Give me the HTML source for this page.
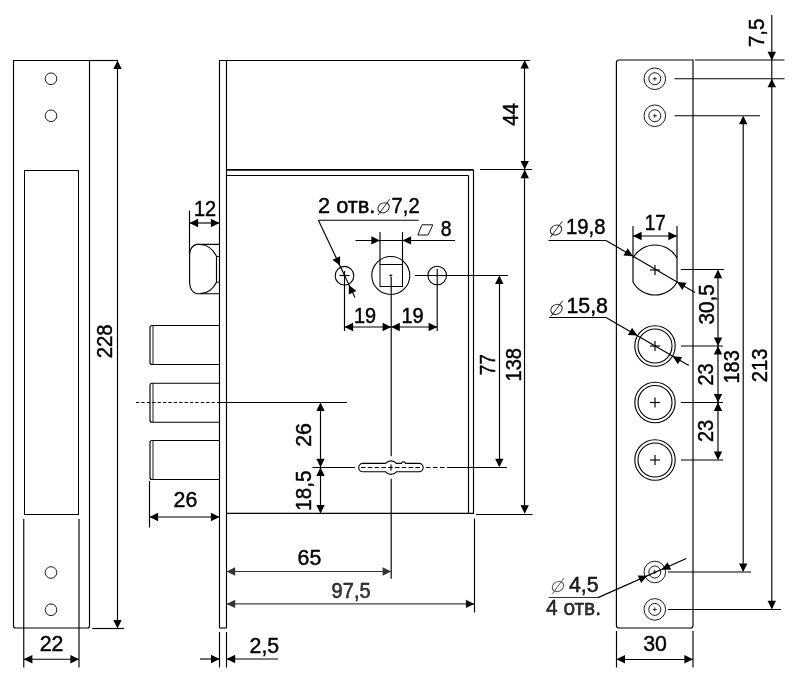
<!DOCTYPE html>
<html><head><meta charset="utf-8"><title>Lock drawing</title>
<style>
html,body{margin:0;padding:0;background:#fff;}
svg{display:block;}
text{font-family:"Liberation Sans",sans-serif;stroke:#000;stroke-width:0.45px;}
svg{will-change:transform;}
</style></head><body>
<svg width="800" height="690" viewBox="0 0 800 690">
<path d="M13.5,60.5 H89.5 V626 Q89.5,628 87.5,628 H15.5 Q13.5,628 13.5,626 Z" fill="none" stroke="#000" stroke-width="1.15"/>
<rect x="24.5" y="170.5" width="54" height="344" fill="none" stroke="#000" stroke-width="1"/>
<circle cx="51" cy="78.75" r="5.8" fill="none" stroke="#000" stroke-width="0.9"/>
<circle cx="51" cy="115.75" r="5.8" fill="none" stroke="#000" stroke-width="0.9"/>
<circle cx="51" cy="572.5" r="5.8" fill="none" stroke="#000" stroke-width="0.9"/>
<circle cx="51" cy="609.75" r="5.8" fill="none" stroke="#000" stroke-width="0.9"/>
<line x1="89.5" y1="60.5" x2="118" y2="60.5" stroke="#000" stroke-width="1.15" />
<line x1="92.3" y1="628.5" x2="124" y2="628.5" stroke="#000" stroke-width="1.15" />
<line x1="117.5" y1="62" x2="117.5" y2="626" stroke="#000" stroke-width="1.15" />
<polygon points="117.50,60.50 121.70,69.10 113.30,69.10" fill="#000"/>
<polygon points="117.50,628.50 113.30,619.90 121.70,619.90" fill="#000"/>
<text transform="translate(112.2,341.4) rotate(-90)" font-size="21.3" text-anchor="middle" fill="#000" textLength="33.9" lengthAdjust="spacingAndGlyphs">228</text>
<line x1="23.75" y1="519" x2="23.75" y2="667.5" stroke="#000" stroke-width="1.15" />
<line x1="79" y1="519" x2="79" y2="667.5" stroke="#000" stroke-width="1.15" />
<line x1="24" y1="659.25" x2="79" y2="659.25" stroke="#000" stroke-width="1.15" />
<polygon points="23.75,659.25 32.35,655.05 32.35,663.45" fill="#000"/>
<polygon points="79.00,659.25 70.40,663.45 70.40,655.05" fill="#000"/>
<text x="51.5" y="650.5" font-size="21.3" text-anchor="middle" fill="#000" >22</text>
<path d="M219.5,628 V60.5 H530" fill="none" stroke="#000" stroke-width="1.15"/>
<line x1="226.5" y1="60.5" x2="226.5" y2="628" stroke="#000" stroke-width="1.15" />
<line x1="219.5" y1="628" x2="226.5" y2="628" stroke="#000" stroke-width="1.15" />
<line x1="226.5" y1="169.9" x2="473.5" y2="169.9" stroke="#000" stroke-width="1.6" />
<line x1="226.5" y1="175.5" x2="468.5" y2="175.5" stroke="#000" stroke-width="1.15" />
<line x1="468.5" y1="175.5" x2="468.5" y2="513.4" stroke="#000" stroke-width="1.15" />
<line x1="473.5" y1="169.9" x2="473.5" y2="513.4" stroke="#000" stroke-width="1.15" />
<line x1="226.5" y1="513.4" x2="474" y2="513.4" stroke="#000" stroke-width="1.15" />
<path d="M219.6,244.4 H196.7 Q190,246 189.6,254.5 V282.6 Q190,292 196.7,293.7 H219.6" fill="none" stroke="#000" stroke-width="1.15"/>
<path d="M200.3,244.5 Q211,245 216.5,256.3 V282.2 Q211,293.2 200.3,293.6" fill="none" stroke="#000" stroke-width="1.15"/>
<line x1="216.5" y1="256.5" x2="219.6" y2="256.5" stroke="#000" stroke-width="0.9" />
<line x1="216.5" y1="282.2" x2="219.6" y2="282.2" stroke="#000" stroke-width="0.9" />
<line x1="189.5" y1="210.5" x2="189.5" y2="255" stroke="#000" stroke-width="1.15" />
<line x1="190" y1="223" x2="219.5" y2="223" stroke="#000" stroke-width="1.15" />
<polygon points="189.50,223.00 198.10,218.80 198.10,227.20" fill="#000"/>
<polygon points="219.50,223.00 210.90,227.20 210.90,218.80" fill="#000"/>
<text x="205.0" y="215.5" font-size="21.3" text-anchor="middle" fill="#000" textLength="22.2" lengthAdjust="spacingAndGlyphs" >12</text>
<path d="M219.5,325.5 H152 Q150,325.5 150,327.5 V362.5 Q150,364.5 152,364.5 H219.5" fill="none" stroke="#000" stroke-width="1.15"/>
<line x1="153" y1="325.5" x2="153" y2="364.5" stroke="#000" stroke-width="0.9" />
<path d="M219.5,383.25 H152 Q150,383.25 150,385.25 V420.25 Q150,422.25 152,422.25 H219.5" fill="none" stroke="#000" stroke-width="1.15"/>
<line x1="153" y1="383.25" x2="153" y2="422.25" stroke="#000" stroke-width="0.9" />
<path d="M219.5,440.5 H152 Q150,440.5 150,442.5 V477.5 Q150,479.5 152,479.5 H219.5" fill="none" stroke="#000" stroke-width="1.15"/>
<line x1="153" y1="440.5" x2="153" y2="479.5" stroke="#000" stroke-width="0.9" />
<line x1="136" y1="402.5" x2="219.5" y2="402.5" stroke="#000" stroke-width="1.0" stroke-dasharray="3.2,2.2"/>
<line x1="219.5" y1="402.5" x2="347" y2="402.5" stroke="#000" stroke-width="1.15" />
<line x1="149.5" y1="481" x2="149.5" y2="527.5" stroke="#000" stroke-width="1.15" />
<line x1="150" y1="517" x2="219.5" y2="517" stroke="#000" stroke-width="1.15" />
<polygon points="149.50,517.00 158.10,512.80 158.10,521.20" fill="#000"/>
<polygon points="219.50,517.00 210.90,521.20 210.90,512.80" fill="#000"/>
<text x="185.4" y="507" font-size="21.3" text-anchor="middle" fill="#000" >26</text>
<circle cx="344.5" cy="275.7" r="9.3" fill="none" stroke="#000" stroke-width="1.1"/>
<circle cx="437.2" cy="275.5" r="9.3" fill="none" stroke="#000" stroke-width="1.1"/>
<circle cx="390.8" cy="275.5" r="19" fill="none" stroke="#000" stroke-width="1.1"/>
<rect x="380" y="264.5" width="22.5" height="22" fill="none" stroke="#000" stroke-width="1"/>
<line x1="389.3" y1="275.5" x2="392.3" y2="275.5" stroke="#000" stroke-width="0.8" />
<line x1="390.8" y1="274" x2="390.8" y2="277" stroke="#000" stroke-width="0.8" />
<line x1="339.5" y1="275.5" x2="349.5" y2="275.5" stroke="#000" stroke-width="1.15" />
<line x1="344.5" y1="271" x2="344.5" y2="331" stroke="#000" stroke-width="1.15" />
<line x1="437.2" y1="268.7" x2="437.2" y2="331" stroke="#000" stroke-width="1.15" />
<line x1="415" y1="275.5" x2="508" y2="275.5" stroke="#000" stroke-width="1.15" />
<line x1="391.2" y1="277" x2="391.2" y2="456.3" stroke="#000" stroke-width="1.15" />
<line x1="391.2" y1="478.7" x2="391.2" y2="578.7" stroke="#000" stroke-width="1.15" />
<line x1="380" y1="232" x2="380" y2="264.5" stroke="#000" stroke-width="1.15" />
<line x1="402.5" y1="232" x2="402.5" y2="264.5" stroke="#000" stroke-width="1.15" />
<line x1="355.5" y1="240.5" x2="455" y2="240.5" stroke="#000" stroke-width="1.15" />
<polygon points="380.00,240.40 371.40,244.60 371.40,236.20" fill="#000"/>
<polygon points="402.50,240.40 411.10,236.20 411.10,244.60" fill="#000"/>
<path d="M417.8,235 L422,224.8 H432.8 L428.1,235 Z" fill="none" stroke="#111" stroke-width="1.0"/>
<text x="446.1" y="235.5" font-size="21.3" text-anchor="middle" fill="#000" textLength="10.8" lengthAdjust="spacingAndGlyphs" >8</text>
<text x="318" y="212.8" font-size="21.3" text-anchor="start" fill="#000" textLength="57.3" lengthAdjust="spacingAndGlyphs" >2 отв.</text>
<g transform="translate(383.6,207.8)"><ellipse cx="0" cy="0" rx="5.6" ry="5.1" transform="skewX(-12)" fill="none" stroke="#222" stroke-width="1.0"/><line x1="-5.6" y1="7.2" x2="6.2" y2="-8.6" stroke="#222" stroke-width="1.0"/></g>
<text x="391.6" y="213" font-size="21.3" text-anchor="start" fill="#000" textLength="28" lengthAdjust="spacingAndGlyphs" >7,2</text>
<line x1="318.4" y1="220.2" x2="418.6" y2="220.2" stroke="#000" stroke-width="1.15" />
<line x1="318.4" y1="220.2" x2="355" y2="297.5" stroke="#000" stroke-width="1.15" />
<polygon points="340.00,265.70 332.52,259.72 340.12,256.13" fill="#000"/>
<polygon points="348.90,285.00 356.38,290.98 348.78,294.57" fill="#000"/>
<line x1="344.5" y1="327" x2="437.2" y2="327" stroke="#000" stroke-width="1.15" />
<polygon points="344.50,327.00 353.10,322.80 353.10,331.20" fill="#000"/>
<polygon points="391.20,327.00 382.60,331.20 382.60,322.80" fill="#000"/>
<polygon points="391.20,327.00 399.80,322.80 399.80,331.20" fill="#000"/>
<polygon points="437.20,327.00 428.60,331.20 428.60,322.80" fill="#000"/>
<text x="365.0" y="322.6" font-size="21.3" text-anchor="middle" fill="#000" textLength="22.2" lengthAdjust="spacingAndGlyphs" >19</text>
<text x="412.5" y="322.6" font-size="21.3" text-anchor="middle" fill="#000" textLength="22.2" lengthAdjust="spacingAndGlyphs" >19</text>
<line x1="499.5" y1="277" x2="499.5" y2="466" stroke="#000" stroke-width="1.15" />
<polygon points="499.30,275.50 503.50,284.10 495.10,284.10" fill="#000"/>
<polygon points="499.30,467.30 495.10,458.70 503.50,458.70" fill="#000"/>
<text transform="translate(494.6,364.7) rotate(-90)" font-size="21.3" text-anchor="middle" fill="#000" textLength="21.3" lengthAdjust="spacingAndGlyphs">77</text>
<line x1="480" y1="169.5" x2="532" y2="169.5" stroke="#000" stroke-width="1.15" />
<line x1="476" y1="514.5" x2="532.5" y2="514.5" stroke="#000" stroke-width="1.15" />
<line x1="524.5" y1="62" x2="524.5" y2="512" stroke="#000" stroke-width="1.15" />
<polygon points="524.70,60.00 528.90,68.60 520.50,68.60" fill="#000"/>
<polygon points="524.70,169.60 520.50,161.00 528.90,161.00" fill="#000"/>
<polygon points="524.70,169.60 528.90,178.20 520.50,178.20" fill="#000"/>
<polygon points="524.70,513.80 520.50,505.20 528.90,505.20" fill="#000"/>
<text transform="translate(517.7,114.5) rotate(-90)" font-size="21.3" text-anchor="middle" fill="#000" textLength="22.6" lengthAdjust="spacingAndGlyphs">44</text>
<text transform="translate(521.1,364.7) rotate(-90)" font-size="21.3" text-anchor="middle" fill="#000" textLength="33.4" lengthAdjust="spacingAndGlyphs">138</text>
<line x1="312.5" y1="467.5" x2="355" y2="467.5" stroke="#000" stroke-width="1.15" />
<line x1="426" y1="467.5" x2="450" y2="467.5" stroke="#000" stroke-width="1.0" stroke-dasharray="4.5,2.5"/>
<line x1="450" y1="467.5" x2="507" y2="467.5" stroke="#000" stroke-width="1.15" />
<path d="M362.9,463.4 H385.6 A7,7 0 0 1 396.4,463.4 H401.4 A2.2,2.2 0 0 1 405.6,463.4 H419 A4.2,4.2 0 0 1 419,471.8 H396.4 A7,7 0 0 1 385.6,471.8 H362.9 A4.2,4.2 0 0 1 362.9,463.4 Z" fill="#fff" stroke="#000" stroke-width="1.1"/>
<line x1="361" y1="467.5" x2="421" y2="467.5" stroke="#000" stroke-width="1.0" stroke-dasharray="4.5,2.3"/>
<line x1="391" y1="464.4" x2="391" y2="470.6" stroke="#000" stroke-width="1.15" />
<line x1="320.5" y1="404" x2="320.5" y2="512" stroke="#000" stroke-width="1.15" />
<polygon points="320.50,402.50 324.70,411.10 316.30,411.10" fill="#000"/>
<polygon points="320.50,467.30 316.30,458.70 324.70,458.70" fill="#000"/>
<polygon points="320.50,467.30 324.70,475.90 316.30,475.90" fill="#000"/>
<polygon points="320.50,513.60 316.30,505.00 324.70,505.00" fill="#000"/>
<text transform="translate(310.8,434.9) rotate(-90)" font-size="21.3" text-anchor="middle" fill="#000">26</text>
<text transform="translate(310.5,490.7) rotate(-90)" font-size="21.3" text-anchor="middle" fill="#000" textLength="40.3" lengthAdjust="spacingAndGlyphs">18,5</text>
<line x1="227" y1="571.5" x2="391" y2="571.5" stroke="#333" stroke-width="1.0" />
<polygon points="226.60,571.50 235.20,567.30 235.20,575.70" fill="#333"/>
<polygon points="391.20,571.50 382.60,575.70 382.60,567.30" fill="#333"/>
<text x="309.4" y="565" font-size="21.3" text-anchor="middle" fill="#000" >65</text>
<line x1="474.5" y1="518.5" x2="474.5" y2="612.5" stroke="#000" stroke-width="1.15" />
<line x1="227" y1="603.9" x2="474" y2="603.9" stroke="#444" stroke-width="1.3" />
<polygon points="226.60,603.90 235.20,599.70 235.20,608.10" fill="#333"/>
<polygon points="474.50,603.90 465.90,608.10 465.90,599.70" fill="#111"/>
<text x="351.1" y="597.6" font-size="21.3" text-anchor="middle" fill="#3a3a3a" textLength="39" lengthAdjust="spacingAndGlyphs" >97,5</text>
<line x1="219.5" y1="632" x2="219.5" y2="667.5" stroke="#000" stroke-width="1.15" />
<line x1="226.5" y1="632" x2="226.5" y2="667.5" stroke="#000" stroke-width="1.15" />
<line x1="200" y1="659" x2="219.6" y2="659" stroke="#000" stroke-width="1.15" />
<line x1="226.6" y1="659" x2="278" y2="659" stroke="#000" stroke-width="1.15" />
<polygon points="219.60,659.00 211.00,663.20 211.00,654.80" fill="#000"/>
<polygon points="226.60,659.00 235.20,654.80 235.20,663.20" fill="#000"/>
<text x="264.4" y="652.5" font-size="21.3" text-anchor="middle" fill="#000" >2,5</text>
<path d="M619,60 H693 V625.5 Q693,628 690.5,628 H619 Q616.4,628 616.4,625.5 V62.5 Q616.4,60 619,60 Z" fill="none" stroke="#000" stroke-width="1.15"/>
<circle cx="654.8" cy="78.75" r="10.8" fill="none" stroke="#000" stroke-width="0.9"/>
<circle cx="654.8" cy="78.75" r="6" fill="none" stroke="#000" stroke-width="0.9"/>
<line x1="652.8" y1="78.75" x2="656.8" y2="78.75" stroke="#000" stroke-width="0.8" />
<line x1="654.8" y1="76.75" x2="654.8" y2="80.75" stroke="#000" stroke-width="0.8" />
<circle cx="654.8" cy="115.75" r="10.8" fill="none" stroke="#000" stroke-width="0.9"/>
<circle cx="654.8" cy="115.75" r="6" fill="none" stroke="#000" stroke-width="0.9"/>
<line x1="652.8" y1="115.75" x2="656.8" y2="115.75" stroke="#000" stroke-width="0.8" />
<line x1="654.8" y1="113.75" x2="654.8" y2="117.75" stroke="#000" stroke-width="0.8" />
<circle cx="654.8" cy="572" r="10.8" fill="none" stroke="#000" stroke-width="0.9"/>
<circle cx="654.8" cy="572" r="6" fill="none" stroke="#000" stroke-width="0.9"/>
<line x1="652.8" y1="572" x2="656.8" y2="572" stroke="#000" stroke-width="0.8" />
<line x1="654.8" y1="570" x2="654.8" y2="574" stroke="#000" stroke-width="0.8" />
<circle cx="654.8" cy="609.4" r="10.8" fill="none" stroke="#000" stroke-width="0.9"/>
<circle cx="654.8" cy="609.4" r="6" fill="none" stroke="#000" stroke-width="0.9"/>
<line x1="652.8" y1="609.4" x2="656.8" y2="609.4" stroke="#000" stroke-width="0.8" />
<line x1="654.8" y1="607.4" x2="654.8" y2="611.4" stroke="#000" stroke-width="0.8" />
<path d="M633,258.1 A25,25 0 0 1 677,258.1 V281.9 A25,25 0 0 1 633,281.9 Z" fill="none" stroke="#000" stroke-width="1.15"/>
<line x1="650" y1="270" x2="660" y2="270" stroke="#000" stroke-width="1.15" />
<line x1="655" y1="265" x2="655" y2="275" stroke="#000" stroke-width="1.15" />
<circle cx="655" cy="346" r="20.2" fill="none" stroke="#000" stroke-width="1.1"/>
<circle cx="655" cy="346" r="17" fill="none" stroke="#000" stroke-width="1.1"/>
<line x1="650" y1="346" x2="660" y2="346" stroke="#000" stroke-width="1.15" />
<line x1="655" y1="341" x2="655" y2="351" stroke="#000" stroke-width="1.15" />
<line x1="681" y1="346" x2="723" y2="346" stroke="#000" stroke-width="1.15" />
<circle cx="655" cy="402.5" r="20.2" fill="none" stroke="#000" stroke-width="1.1"/>
<circle cx="655" cy="402.5" r="17" fill="none" stroke="#000" stroke-width="1.1"/>
<line x1="650" y1="402.5" x2="660" y2="402.5" stroke="#000" stroke-width="1.15" />
<line x1="655" y1="397.5" x2="655" y2="407.5" stroke="#000" stroke-width="1.15" />
<line x1="681" y1="402.5" x2="723" y2="402.5" stroke="#000" stroke-width="1.15" />
<circle cx="655" cy="460" r="20.2" fill="none" stroke="#000" stroke-width="1.1"/>
<circle cx="655" cy="460" r="17" fill="none" stroke="#000" stroke-width="1.1"/>
<line x1="650" y1="460" x2="660" y2="460" stroke="#000" stroke-width="1.15" />
<line x1="655" y1="455" x2="655" y2="465" stroke="#000" stroke-width="1.15" />
<line x1="681" y1="460" x2="723" y2="460" stroke="#000" stroke-width="1.15" />
<line x1="633" y1="226" x2="633" y2="258" stroke="#000" stroke-width="1.15" />
<line x1="677" y1="226" x2="677" y2="258" stroke="#000" stroke-width="1.15" />
<line x1="633" y1="236" x2="677" y2="236" stroke="#000" stroke-width="1.15" />
<polygon points="633.00,236.00 641.60,231.80 641.60,240.20" fill="#000"/>
<polygon points="677.00,236.00 668.40,240.20 668.40,231.80" fill="#000"/>
<text x="655.2" y="229.5" font-size="21.3" text-anchor="middle" fill="#000" textLength="20.9" lengthAdjust="spacingAndGlyphs" >17</text>
<g transform="translate(556,230)"><ellipse cx="0" cy="0" rx="5.6" ry="5.1" transform="skewX(-12)" fill="none" stroke="#222" stroke-width="1.0"/><line x1="-5.6" y1="7.2" x2="6.2" y2="-8.6" stroke="#222" stroke-width="1.0"/></g>
<text x="566" y="234" font-size="21.3" text-anchor="start" fill="#000" textLength="39.4" lengthAdjust="spacingAndGlyphs" >19,8</text>
<line x1="548.5" y1="240.5" x2="606" y2="240.5" stroke="#000" stroke-width="1.15" />
<line x1="606" y1="240.4" x2="695" y2="292.5" stroke="#000" stroke-width="1.15" />
<polygon points="633.00,256.20 623.46,255.48 627.70,248.23" fill="#000"/>
<polygon points="677.00,282.00 686.54,282.72 682.30,289.97" fill="#000"/>
<g transform="translate(556.5,309.3)"><ellipse cx="0" cy="0" rx="5.6" ry="5.1" transform="skewX(-12)" fill="none" stroke="#222" stroke-width="1.0"/><line x1="-5.6" y1="7.2" x2="6.2" y2="-8.6" stroke="#222" stroke-width="1.0"/></g>
<text x="566.5" y="313" font-size="21.3" text-anchor="start" fill="#000" >15,8</text>
<line x1="549" y1="317.5" x2="606" y2="317.5" stroke="#000" stroke-width="1.15" />
<line x1="606" y1="317.4" x2="688.8" y2="365.6" stroke="#000" stroke-width="1.15" />
<polygon points="637.40,335.60 627.85,334.90 632.08,327.64" fill="#000"/>
<polygon points="672.60,356.20 682.15,356.90 677.92,364.16" fill="#000"/>
<line x1="681" y1="269.5" x2="724" y2="269.5" stroke="#000" stroke-width="1.15" />
<line x1="718" y1="271" x2="718" y2="459" stroke="#000" stroke-width="1.15" />
<polygon points="718.00,269.60 722.20,278.20 713.80,278.20" fill="#000"/>
<polygon points="718.00,346.00 713.80,337.40 722.20,337.40" fill="#000"/>
<polygon points="718.00,346.00 722.20,354.60 713.80,354.60" fill="#000"/>
<polygon points="718.00,402.50 713.80,393.90 722.20,393.90" fill="#000"/>
<polygon points="718.00,402.50 722.20,411.10 713.80,411.10" fill="#000"/>
<polygon points="718.00,460.00 713.80,451.40 722.20,451.40" fill="#000"/>
<text transform="translate(714.0,304.4) rotate(-90)" font-size="21.3" text-anchor="middle" fill="#000" textLength="40.3" lengthAdjust="spacingAndGlyphs">30,5</text>
<text transform="translate(712.9,374.4) rotate(-90)" font-size="21.3" text-anchor="middle" fill="#000" textLength="22.2" lengthAdjust="spacingAndGlyphs">23</text>
<text transform="translate(712.9,430.9) rotate(-90)" font-size="21.3" text-anchor="middle" fill="#000" textLength="22.2" lengthAdjust="spacingAndGlyphs">23</text>
<line x1="674.5" y1="115.75" x2="760" y2="115.75" stroke="#000" stroke-width="1.15" />
<line x1="668" y1="572" x2="751" y2="572" stroke="#000" stroke-width="1.15" />
<line x1="743.2" y1="117" x2="743.2" y2="571" stroke="#000" stroke-width="1.15" />
<polygon points="743.20,115.75 747.40,124.35 739.00,124.35" fill="#000"/>
<polygon points="743.20,572.00 739.00,563.40 747.40,563.40" fill="#000"/>
<text transform="translate(739.4,366.9) rotate(-90)" font-size="21.3" text-anchor="middle" fill="#000" textLength="33.2" lengthAdjust="spacingAndGlyphs">183</text>
<line x1="695" y1="60" x2="784.5" y2="60" stroke="#000" stroke-width="1.15" />
<line x1="674.5" y1="78.75" x2="784.5" y2="78.75" stroke="#000" stroke-width="1.15" />
<line x1="668" y1="609.5" x2="781" y2="609.5" stroke="#000" stroke-width="1.15" />
<line x1="771.8" y1="15" x2="771.8" y2="608" stroke="#000" stroke-width="1.15" />
<polygon points="771.80,60.40 767.60,51.80 776.00,51.80" fill="#000"/>
<polygon points="771.80,78.75 776.00,87.35 767.60,87.35" fill="#000"/>
<polygon points="771.80,609.40 767.60,600.80 776.00,600.80" fill="#000"/>
<text transform="translate(766.8,365.4) rotate(-90)" font-size="21.3" text-anchor="middle" fill="#000" textLength="33.8" lengthAdjust="spacingAndGlyphs">213</text>
<text transform="translate(763.8,32.8) rotate(-90)" font-size="21.3" text-anchor="middle" fill="#000" textLength="28.4" lengthAdjust="spacingAndGlyphs">7,5</text>
<g transform="translate(558,586.5)"><ellipse cx="0" cy="0" rx="5.6" ry="5.1" transform="skewX(-12)" fill="none" stroke="#555" stroke-width="1.0"/><line x1="-5.6" y1="7.2" x2="6.2" y2="-8.6" stroke="#555" stroke-width="1.0"/></g>
<text x="569" y="592" font-size="21.3" text-anchor="start" fill="#222" >4,5</text>
<text x="546" y="615" font-size="21.3" text-anchor="start" fill="#333" textLength="55" lengthAdjust="spacingAndGlyphs" >4 отв.</text>
<line x1="548.7" y1="597.5" x2="598" y2="597.5" stroke="#333" stroke-width="1.0" />
<line x1="598" y1="597.6" x2="686.3" y2="558.5" stroke="#000" stroke-width="1.15" />
<polygon points="647.30,575.80 641.14,583.12 637.74,575.44" fill="#000"/>
<polygon points="661.50,569.50 667.66,562.18 671.06,569.86" fill="#000"/>
<line x1="616.5" y1="631" x2="616.5" y2="667.5" stroke="#000" stroke-width="1.15" />
<line x1="693" y1="631" x2="693" y2="667.5" stroke="#000" stroke-width="1.15" />
<line x1="617" y1="659.5" x2="693" y2="659.5" stroke="#000" stroke-width="1.15" />
<polygon points="616.40,659.30 625.00,655.10 625.00,663.50" fill="#000"/>
<polygon points="693.00,659.30 684.40,663.50 684.40,655.10" fill="#000"/>
<text x="655" y="651.3" font-size="21.3" text-anchor="middle" fill="#000" >30</text>
</svg>
</body></html>
